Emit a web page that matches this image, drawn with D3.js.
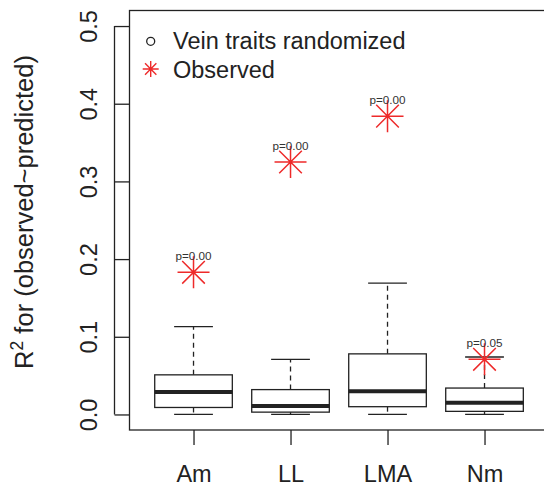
<!DOCTYPE html>
<html><head><meta charset="utf-8">
<script src="https://cdn.jsdelivr.net/npm/d3@7"></script>
<style>body{margin:0;background:#fff}svg{display:block;font-family:"Liberation Sans",Arial,Helvetica,sans-serif}</style>
</head><body>
<script>
const categories = ["Am", "LL", "LMA", "Nm"];
const whiskerLow = [0.000, 0.000, 0.000, 0.000];
const q1 = [0.009, 0.003, 0.010, 0.004];
const median = [0.029, 0.011, 0.030, 0.015];
const q3 = [0.051, 0.032, 0.078, 0.034];
const whiskerHigh = [0.113, 0.071, 0.169, 0.074];
const observed = [0.183, 0.325, 0.384, 0.071];
const pLabels = ["p=0.00", "p=0.00", "p=0.00", "p=0.05"];
const yTicks = [0.0, 0.1, 0.2, 0.3, 0.4, 0.5];
const legendLabels = ["Vein traits randomized", "Observed"];

(function () {
const W = 544, H = 486;
const red = "#ee2a2a", ink = "#222";
const svg = d3.select("body").append("svg").attr("width", W).attr("height", H);

const pLeft = 129.5, pTop = 10.5, pBottom = 430;
const x = d3.scaleLinear().domain([0.34, categories.length + 0.66]).range([pLeft, pLeft + 4.32 * 97]);
const y = d3.scaleLinear().domain([-0.02, 0.52]).range([pBottom, pTop]);

// plot frame
svg.append("rect").attr("x", pLeft).attr("y", pTop).attr("width", x.range()[1] - pLeft).attr("height", pBottom - pTop)
  .attr("fill", "none").attr("stroke", ink).attr("stroke-width", 1.3);

// y axis
const yAxis = svg.append("g").attr("transform", `translate(${pLeft - 15},0)`)
  .call(d3.axisLeft(y).tickValues(yTicks).tickSize(0).tickFormat(d3.format(".1f")));
yAxis.select(".domain").attr("d", `M0,${y(0)}V${y(0.5)}`).attr("stroke", ink).attr("stroke-width", 1.3);
yAxis.selectAll(".tick line").attr("x1", 0).attr("x2", 15).attr("stroke", ink).attr("stroke-width", 1.3);
yAxis.selectAll(".tick text").attr("transform", "rotate(-90)").attr("x", 0).attr("y", -18)
  .attr("dy", 0).attr("text-anchor", "middle").attr("font-size", 23.5).attr("fill", ink)
  .style("font-family", "Liberation Sans, Arial, sans-serif");

// x axis
const xAxis = svg.append("g").attr("transform", `translate(0,${pBottom + 15})`)
  .call(d3.axisBottom(x).tickValues(d3.range(1, categories.length + 1)).tickSize(0).tickFormat((d) => categories[d - 1]));
xAxis.select(".domain").remove();
xAxis.selectAll(".tick line").attr("y1", -15).attr("y2", 0).attr("stroke", ink).attr("stroke-width", 1.3);
xAxis.selectAll(".tick text").attr("y", 36.5).attr("dy", 0).attr("font-size", 23.5).attr("fill", ink)
  .style("font-family", "Liberation Sans, Arial, sans-serif");

// y title
const yt = svg.append("text").attr("transform", "translate(33,212) rotate(-90)").attr("text-anchor", "middle")
  .attr("font-size", 25.5).attr("fill", ink);
yt.append("tspan").text("R");
yt.append("tspan").attr("font-size", 17.5).attr("dy", -10.5).text("2");
yt.append("tspan").attr("dy", 10.5).text(" for (observed~predicted)");

// boxes
const g = svg.append("g");
categories.forEach((c, i) => {
  const cx = x(i + 1), bw = x(1.4) - x(1), cw = x(1.2) - x(1);
  g.append("line").attr("x1", cx).attr("x2", cx).attr("y1", y(q3[i])).attr("y2", y(whiskerHigh[i]))
    .attr("stroke", ink).attr("stroke-width", 1.3).attr("stroke-dasharray", "5,4");
  g.append("line").attr("x1", cx).attr("x2", cx).attr("y1", y(q1[i])).attr("y2", y(whiskerLow[i]))
    .attr("stroke", ink).attr("stroke-width", 1.3).attr("stroke-dasharray", "5,4");
  [whiskerHigh[i], whiskerLow[i]].forEach(v => g.append("line").attr("x1", cx - cw).attr("x2", cx + cw)
    .attr("y1", y(v)).attr("y2", y(v)).attr("stroke", ink).attr("stroke-width", 1.3));
  g.append("rect").attr("x", cx - bw).attr("width", 2 * bw).attr("y", y(q3[i])).attr("height", y(q1[i]) - y(q3[i]))
    .attr("fill", "#fff").attr("stroke", ink).attr("stroke-width", 1.3);
  g.append("line").attr("x1", cx - bw).attr("x2", cx + bw).attr("y1", y(median[i])).attr("y2", y(median[i]))
    .attr("stroke", ink).attr("stroke-width", 4);
});

function star(r) {
  const d = r / Math.SQRT2;
  return `M${-r},0H${r}M0,${-r}V${r}M${-d},${-d}L${d},${d}M${-d},${d}L${d},${-d}`;
}

// observed
categories.forEach((c, i) => {
  g.append("path").attr("d", star(16)).attr("transform", `translate(${x(i + 1)},${y(observed[i])})`)
    .attr("stroke", red).attr("stroke-width", 1.5).attr("fill", "none");
  g.append("text").attr("x", x(i + 1)).attr("y", y(observed[i]) - 12).attr("text-anchor", "middle")
    .attr("font-size", 11.7).attr("fill", "#333").text(pLabels[i]);
});

// legend
svg.append("circle").attr("cx", 150.7).attr("cy", 41.3).attr("r", 4).attr("fill", "none").attr("stroke", ink).attr("stroke-width", 1.3);
svg.append("path").attr("d", star(8)).attr("transform", "translate(150.7,69)").attr("stroke", red).attr("stroke-width", 1.4).attr("fill", "none");
svg.append("text").attr("x", 173).attr("y", 49).attr("font-size", 23.5).attr("fill", ink).text(legendLabels[0]);
svg.append("text").attr("x", 173).attr("y", 77.5).attr("font-size", 23.5).attr("fill", ink).text(legendLabels[1]);
})();
</script>
</body></html>
